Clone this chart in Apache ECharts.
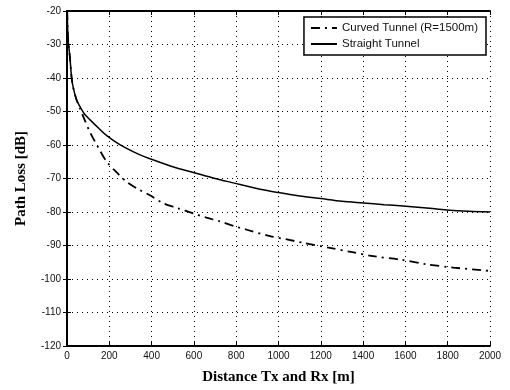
<!DOCTYPE html>
<html>
<head>
<meta charset="utf-8">
<script src="https://cdn.jsdelivr.net/npm/echarts@6/dist/echarts.min.js"></script>
<style>
  html, body { margin: 0; padding: 0; background: #fff; }
  #chart { width: 510px; height: 390px; }
</style>
</head>
<body>
<div id="chart"></div>
<script>
// distance (m) and path loss (dB)
const straightX = [1, 3, 6, 14, 22, 30, 45, 61, 80, 109, 150, 188, 240, 282, 340, 392, 500, 597, 700, 786, 913, 1000, 1100, 1200, 1300, 1400, 1500, 1589, 1700, 1795, 1900, 2000]
const straightY = [-20, -25, -29, -34, -40, -43, -46.5, -48.5, -50.5, -52.5, -55, -57.2, -59.5, -61, -62.8, -64.1, -66.5, -68.2, -70, -71.3, -73.2, -74.2, -75.2, -76, -76.8, -77.3, -77.8, -78.2, -78.8, -79.4, -79.8, -80]

const curvedX = [1, 3, 6, 14, 22, 30, 45, 61, 80, 109, 150, 188, 240, 282, 340, 392, 455, 520, 597, 660, 723, 790, 850, 960, 1040, 1117, 1243, 1350, 1448, 1574, 1700, 1827, 1969, 2000]
const curvedY = [-20, -25, -29, -34, -40, -43, -46.5, -49, -52, -56.2, -61, -65, -68.5, -71, -73.3, -75, -77.4, -78.8, -80.4, -81.7, -82.8, -84.2, -85.3, -87.2, -88.2, -89.2, -90.7, -92, -93.2, -94.2, -95.6, -96.6, -97.4, -97.6]

const seriesNames = ['Curved Tunnel (R=1500m)', 'Straight Tunnel']

const chart = echarts.init(document.getElementById('chart'))

const gridLine = { show: true, lineStyle: { color: '#000', type: [1, 4], width: 1 } }
const tickFont = { color: '#111', fontSize: 10, fontFamily: 'Liberation Sans, Arial', formatter: v => String(v) }
const serifBold = { color: '#000', fontSize: 15, fontWeight: 'bold', fontFamily: 'Liberation Serif, Times New Roman' }

chart.setOption({
  animation: false,
  backgroundColor: '#fff',
  grid: { left: 67, right: 20, top: 11, bottom: 41 },
  legend: {
    right: 24,
    top: 17,
    orient: 'vertical',
    backgroundColor: '#fff',
    borderColor: '#000',
    borderWidth: 1.5,
    borderRadius: 0,
    padding: [5, 8, 5, 6],
    itemGap: 4,
    itemWidth: 26,
    itemHeight: 10,
    itemStyle: { opacity: 0 },
    textStyle: { color: '#111', fontSize: 11.5, fontFamily: 'Liberation Sans, Arial' },
    data: seriesNames
  },
  xAxis: [
    {
      type: 'value',
      min: 0,
      max: 2000,
      interval: 200,
      name: 'Distance Tx and Rx [m]',
      nameLocation: 'middle',
      nameGap: 24,
      nameTextStyle: serifBold,
      axisLine: { show: true, lineStyle: { color: '#000', width: 2 } },
      axisTick: { show: true, inside: true, length: 4, lineStyle: { color: '#000' } },
      axisLabel: Object.assign({ margin: 5 }, tickFont),
      splitLine: gridLine
    },
    {
      type: 'value',
      position: 'top',
      min: 0,
      max: 2000,
      interval: 200,
      axisLine: { show: true, lineStyle: { color: '#000', width: 2 } },
      axisTick: { show: true, inside: true, length: 4, lineStyle: { color: '#000' } },
      axisLabel: { show: false },
      splitLine: { show: false }
    }
  ],
  yAxis: [
    {
      type: 'value',
      min: -120,
      max: -20,
      interval: 10,
      name: 'Path Loss [dB]',
      nameLocation: 'middle',
      nameGap: 38,
      nameTextStyle: serifBold,
      axisLine: { show: true, lineStyle: { color: '#000', width: 2 } },
      axisTick: { show: true, inside: true, length: 4, lineStyle: { color: '#000' } },
      axisLabel: Object.assign({ margin: 6 }, tickFont),
      splitLine: gridLine
    },
    {
      type: 'value',
      position: 'right',
      min: -120,
      max: -20,
      interval: 10,
      axisLine: { show: true, lineStyle: { color: '#000', width: 2 } },
      axisTick: { show: true, inside: true, length: 4, lineStyle: { color: '#000' } },
      axisLabel: { show: false },
      splitLine: { show: false }
    }
  ],
  series: [
    {
      name: seriesNames[0],
      type: 'line',
      showSymbol: false,
      symbol: 'none',
      smooth: 0.3,
      lineStyle: { color: '#000', width: 1.8, type: [9, 5, 2, 5] },
      itemStyle: { color: '#000' },
      data: curvedX.map((x, i) => [x, curvedY[i]])
    },
    {
      name: seriesNames[1],
      type: 'line',
      showSymbol: false,
      symbol: 'none',
      smooth: 0.3,
      lineStyle: { color: '#000', width: 1.5 },
      itemStyle: { color: '#000' },
      data: straightX.map((x, i) => [x, straightY[i]])
    }
  ]
})
</script>
</body>
</html>
